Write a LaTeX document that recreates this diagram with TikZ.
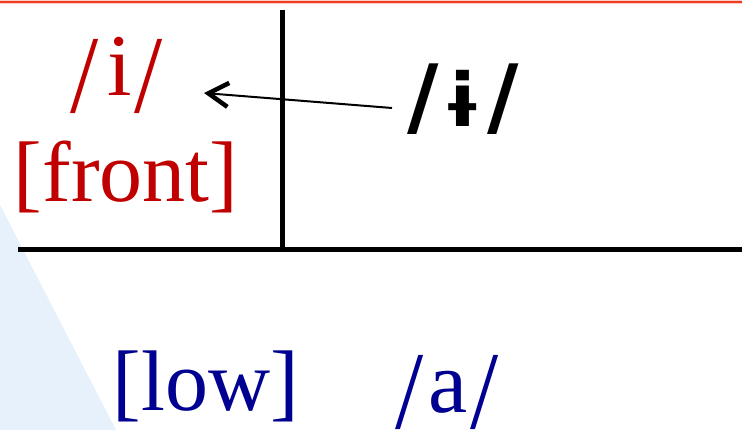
\documentclass[tikz,border=0pt]{standalone}
\usepackage{fontspec}
\usepackage{graphicx}
\setmainfont{Liberation Serif}
\newfontfamily\ipasans{DejaVu Sans}
\usetikzlibrary{arrows.meta}
\definecolor{redtxt}{RGB}{192,0,0}
\definecolor{bluetxt}{RGB}{0,0,145}
\definecolor{paleblue}{RGB}{230,241,252}
\definecolor{topline}{RGB}{240,60,30}
\newcommand{\tslash}{\raisebox{-0.19em}{\scalebox{1.15}[1.26]{/}}}
\tikzset{
  lbl/.style={inner sep=0pt, anchor=base, font=\fontsize{86}{86}\selectfont},
  phon/.style={inner sep=0pt, anchor=base, font=\fontsize{88}{88}\selectfont},
  redlbl/.style={lbl, text=redtxt},
  bluelbl/.style={lbl, text=bluetxt},
  axis/.style={line width=5pt, black},
  movearrow/.style={line width=2pt, -{Straight Barb[length=20pt,width=24pt,line width=4.5pt]}}
}
\begin{document}
\begin{tikzpicture}[x=1pt,y=-1pt]
\useasboundingbox (0,0) rectangle (742,430);
% pale blue wedge
\fill[paleblue] (0,205) -- (116,430) -- (0,430) -- cycle;
% top rule
\draw[line width=4pt, topline!25] (0,2.5) -- (742,2.5);
\draw[line width=2pt, topline] (0,2.5) -- (742,2.5);
% axes
\coordinate (vtop) at (282,10);
\coordinate (vbot) at (282,250);
\coordinate (hleft) at (18,250);
\coordinate (hright) at (742,250);
\draw[axis] (vtop) -- (vbot);
\draw[axis] (hleft) -- (hright);
% labels
\node[phon, text=redtxt] (i) at (117,96) {\tslash\kern0.1em i\kern0.03em\tslash};
\node[redlbl] (front) at (126,202) {[front]};
\node[bluelbl] (low) at (206,410) {[low]};
\node[phon, text=bluetxt] (a) at (447,412) {\tslash\kern0.05em a\kern0.03em\tslash};
\node[inner sep=0pt, anchor=base, font=\ipasans\bfseries] (ibar) at (463,127)
  {\fontsize{86}{86}\selectfont /\kern0.05em{\fontsize{74}{74}\selectfont ɨ}\kern0.05em/};
% arrow
\coordinate (arrS) at (392,108);
\coordinate (arrE) at (204,93);
\draw[movearrow] (arrS) -- (arrE);
\end{tikzpicture}
\end{document}
